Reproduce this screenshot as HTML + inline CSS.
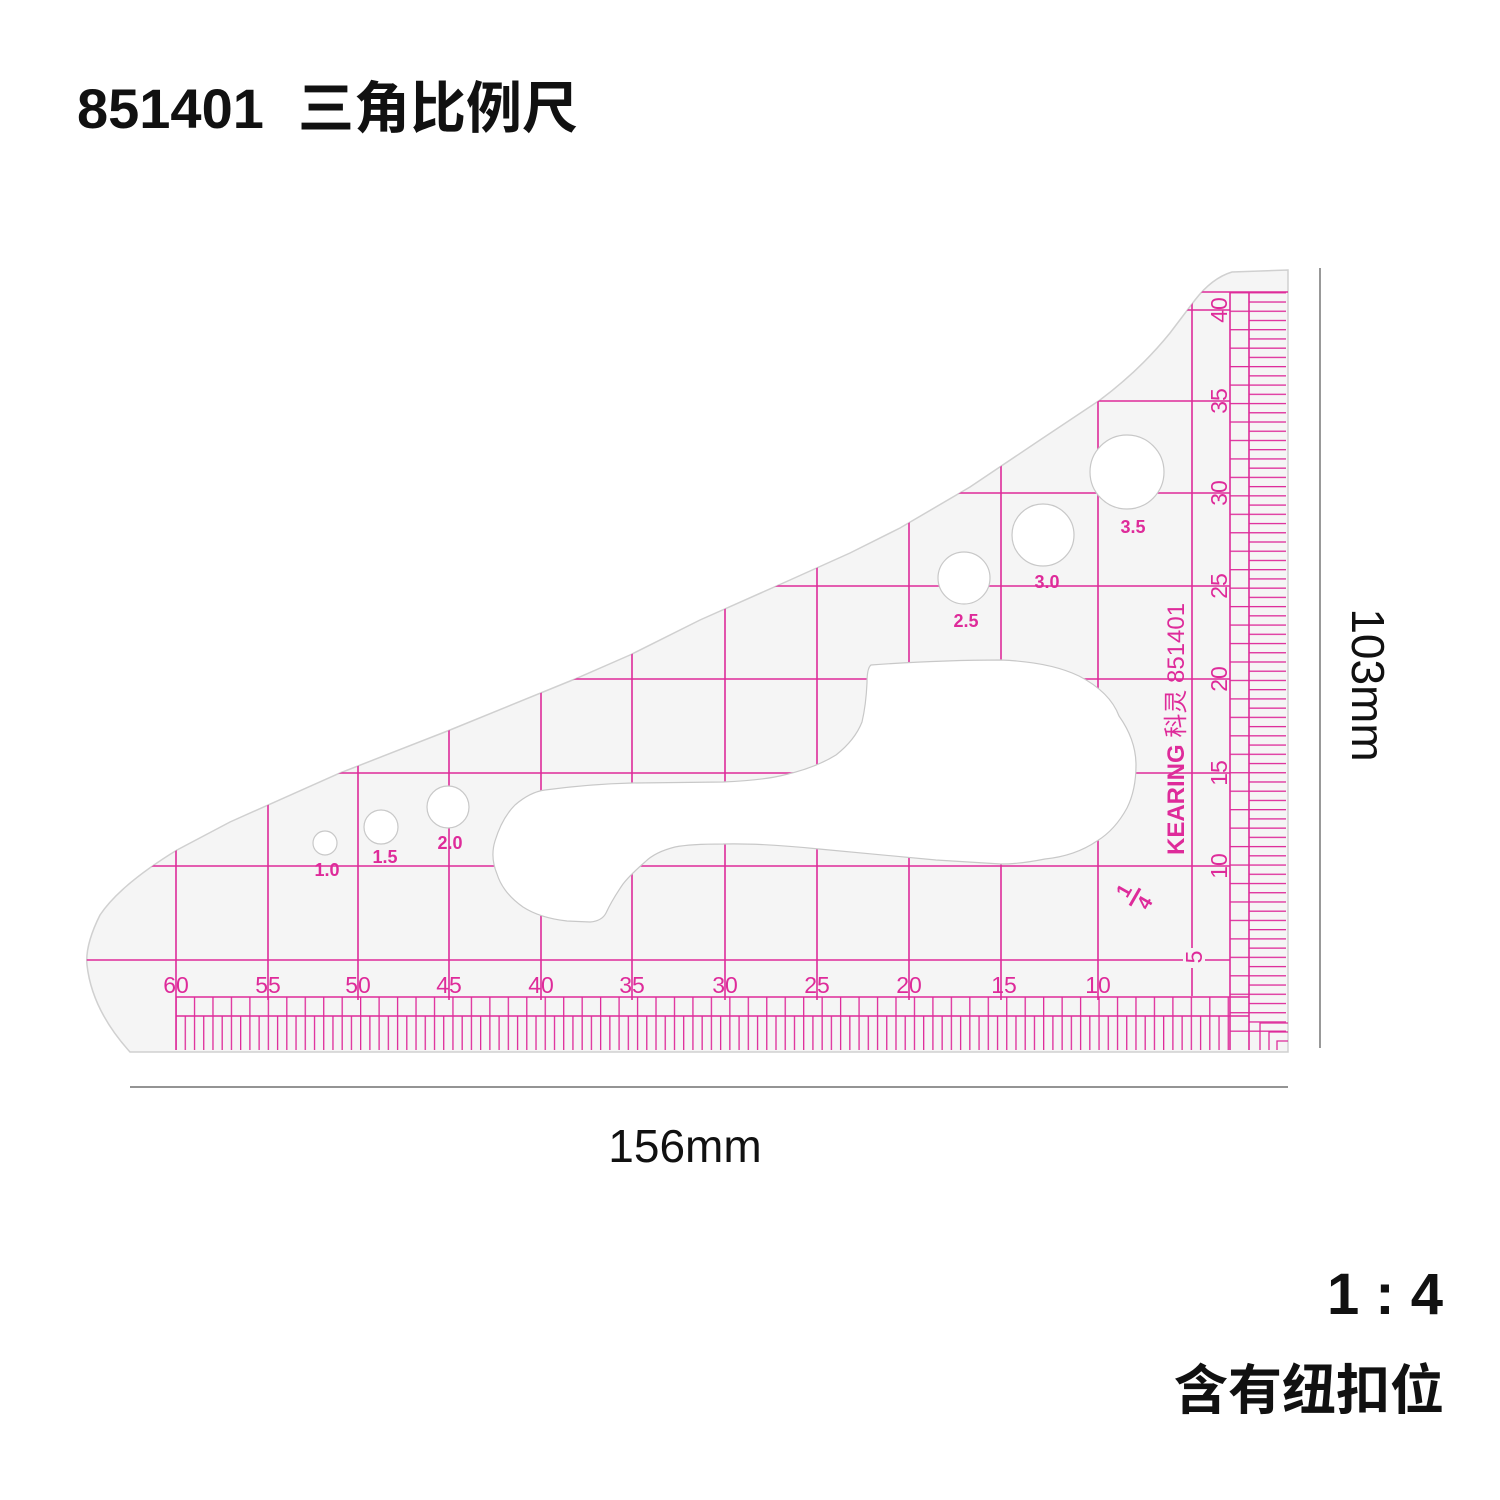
<!DOCTYPE html>
<html><head><meta charset="utf-8"><style>
html,body{margin:0;padding:0;background:#fff;width:1500px;height:1500px;overflow:hidden}
svg{display:block}
</style></head><body>
<svg width="1500" height="1500" viewBox="0 0 1500 1500" xmlns="http://www.w3.org/2000/svg">
<defs>
<clipPath id="cl"><path id="outl" d="M1288 270 L1232 272 Q1212 278 1195 300 L1170 333 Q1140 370 1100 400 L1040 440 L970 487 L900 528 L850 553 L790 580 L700 620 L630 655 L575 679 L450 730 L340 773 L230 822 L177 850 Q120 885 100 915 Q85 945 87 965 Q92 1010 130 1052 L1288 1052 Z"/></clipPath>
<pattern id="vm" x="1283" y="0" width="9.23" height="10" patternUnits="userSpaceOnUse"><rect x="0" y="0" width="1.3" height="10" fill="#de2b9a"/></pattern>
<pattern id="vc" x="1283" y="0" width="18.46" height="10" patternUnits="userSpaceOnUse"><rect x="0" y="0" width="1.3" height="10" fill="#de2b9a"/></pattern>
<pattern id="hm" x="0" y="1049" width="10" height="9.23" patternUnits="userSpaceOnUse"><rect x="0" y="0" width="10" height="1.3" fill="#de2b9a"/></pattern>
<pattern id="hc" x="0" y="1049" width="10" height="18.46" patternUnits="userSpaceOnUse"><rect x="0" y="0" width="10" height="1.3" fill="#de2b9a"/></pattern>
</defs>

<text y="128" font-family="Liberation Sans, Noto Sans CJK SC, sans-serif" font-weight="bold" font-size="56" fill="#111"><tspan x="77">851401</tspan><tspan x="298">三角比例尺</tspan></text>

<use href="#outl" fill="#f5f5f5" stroke="#d0d0d0" stroke-width="1.5"/>
<g clip-path="url(#cl)" stroke="#de2b9a" stroke-width="1.6">
  <line x1="176" y1="800" x2="176" y2="1050"/>
  <line x1="268" y1="700" x2="268" y2="1000"/>
  <line x1="358" y1="700" x2="358" y2="1000"/>
  <line x1="449" y1="700" x2="449" y2="1000"/>
  <line x1="541" y1="600" x2="541" y2="1000"/>
  <line x1="632" y1="600" x2="632" y2="1000"/>
  <line x1="725" y1="500" x2="725" y2="1000"/>
  <line x1="817" y1="500" x2="817" y2="1000"/>
  <line x1="909" y1="400" x2="909" y2="1000"/>
  <line x1="1001" y1="400" x2="1001" y2="1000"/>
  <line x1="1098" y1="300" x2="1098" y2="1000"/>
  <line x1="1192" y1="292" x2="1192" y2="996"/>
  <line x1="1230" y1="292" x2="1230" y2="1050"/>
  <line x1="1249" y1="292" x2="1249" y2="1050"/>
  <line x1="80" y1="960" x2="1230" y2="960"/>
  <line x1="80" y1="866" x2="1230" y2="866"/>
  <line x1="80" y1="773" x2="1230" y2="773"/>
  <line x1="80" y1="679" x2="1230" y2="679"/>
  <line x1="80" y1="586" x2="1230" y2="586"/>
  <line x1="80" y1="493" x2="1230" y2="493"/>
  <line x1="80" y1="401" x2="1230" y2="401"/>
  <line x1="80" y1="310" x2="1230" y2="310"/>
  <line x1="1190" y1="292" x2="1288" y2="292"/>
  <line x1="176" y1="997" x2="1249" y2="997"/>
  <line x1="176" y1="1016" x2="1249" y2="1016"/>
</g>
<rect x="176" y="997" width="1056" height="19" fill="url(#vc)"/>
<rect x="176" y="1016" width="1056" height="34" fill="url(#vm)"/>
<rect x="1230" y="292" width="19" height="740" fill="url(#hc)"/>
<rect x="1249" y="292" width="37" height="740" fill="url(#hm)"/>
<g fill="none" stroke="#de2b9a" stroke-width="1.3">
  <path d="M1260 1050 V1023 H1288"/><path d="M1269 1050 V1032 H1288"/><path d="M1277 1050 V1041 H1288"/>
</g>

<path d="M871 665 Q940 660 1001 660 Q1050 662 1079 676 Q1110 692 1119 716 Q1136 740 1136 765 Q1136 790 1127 808 Q1115 830 1097 841 Q1075 856 1045 859 Q1020 864 1001 864 L936 860 L819 849 Q760 843 723 844 Q690 844 675 847 Q655 852 645 862 Q630 875 623 884 Q612 900 606 913 Q602 921 590 922 L567 921 Q540 918 523 907 Q503 893 497 874 Q490 857 495 841 Q502 818 515 805 Q530 792 545 790 Q590 784 632 783 L723 782 Q765 780 784 775 Q815 768 836 755 Q855 740 862 722 Q866 705 867 683 Q867 668 871 665 Z" fill="#fff" stroke="#c8c8c8" stroke-width="1.2"/>
<g fill="#fff" stroke="#c8c8c8" stroke-width="1.2">
<circle cx="325" cy="843" r="12"/><circle cx="381" cy="827" r="17"/><circle cx="448" cy="807" r="21"/>
<circle cx="964" cy="578" r="26"/><circle cx="1043" cy="535" r="31"/><circle cx="1127" cy="472" r="37"/>
</g>
<g font-family="Liberation Sans Narrow, Liberation Sans, sans-serif" font-weight="bold" font-size="18" fill="#de2b9a" text-anchor="middle">
<text x="327" y="876">1.0</text><text x="385" y="863">1.5</text><text x="450" y="849">2.0</text>
<text x="966" y="627">2.5</text><text x="1047" y="588">3.0</text><text x="1133" y="533">3.5</text>
</g>
<g font-family="Liberation Sans, sans-serif" font-size="23" fill="#de2b9a" text-anchor="middle">
<text x="176" y="993">60</text><text x="268" y="993">55</text><text x="358" y="993">50</text><text x="449" y="993">45</text>
<text x="541" y="993">40</text><text x="632" y="993">35</text><text x="725" y="993">30</text><text x="817" y="993">25</text>
<text x="909" y="993">20</text><text x="1004" y="993">15</text><text x="1098" y="993">10</text>
</g>
<g font-family="Liberation Sans, sans-serif" font-size="23" fill="#de2b9a" text-anchor="middle">
<text transform="translate(1227,310) rotate(-90)">40</text><text transform="translate(1227,401) rotate(-90)">35</text>
<text transform="translate(1227,493) rotate(-90)">30</text><text transform="translate(1227,586) rotate(-90)">25</text>
<text transform="translate(1227,679) rotate(-90)">20</text><text transform="translate(1227,773) rotate(-90)">15</text>
<text transform="translate(1227,866) rotate(-90)">10</text>
<rect x="1183" y="948" width="22" height="20" fill="#f5f5f5"/>
<text transform="translate(1202,957) rotate(-90)">5</text>
</g>
<text transform="translate(1184,855) rotate(-90)" font-family="Liberation Sans, Noto Sans CJK SC, sans-serif" font-size="24" fill="#de2b9a"><tspan font-weight="bold">KEARING</tspan> 科灵  851401</text>
<g transform="translate(1135,897) rotate(-60)" fill="#de2b9a" font-family="Liberation Sans, sans-serif" font-size="20" font-weight="bold" text-anchor="middle">
<text x="0" y="-6">1</text><line x1="-10" y1="0" x2="10" y2="0" stroke="#de2b9a" stroke-width="3"/><text x="0" y="18">4</text>
</g>

<line x1="130" y1="1087" x2="1288" y2="1087" stroke="#555" stroke-width="1.2"/>
<line x1="1320" y1="268" x2="1320" y2="1048" stroke="#555" stroke-width="1.2"/>
<text x="685" y="1162" font-family="Liberation Sans, sans-serif" font-size="46" fill="#111" text-anchor="middle">156mm</text>
<text transform="translate(1352,685) rotate(90)" font-family="Liberation Sans, sans-serif" font-size="46" fill="#111" text-anchor="middle">103mm</text>
<text x="1443" y="1314" font-family="Liberation Sans, sans-serif" font-weight="bold" font-size="58" fill="#111" text-anchor="end">1 : 4</text>
<text x="1444" y="1409" font-family="Liberation Sans, Noto Sans CJK SC, sans-serif" font-weight="bold" font-size="54" fill="#111" text-anchor="end">含有纽扣位</text>
</svg>
</body></html>
